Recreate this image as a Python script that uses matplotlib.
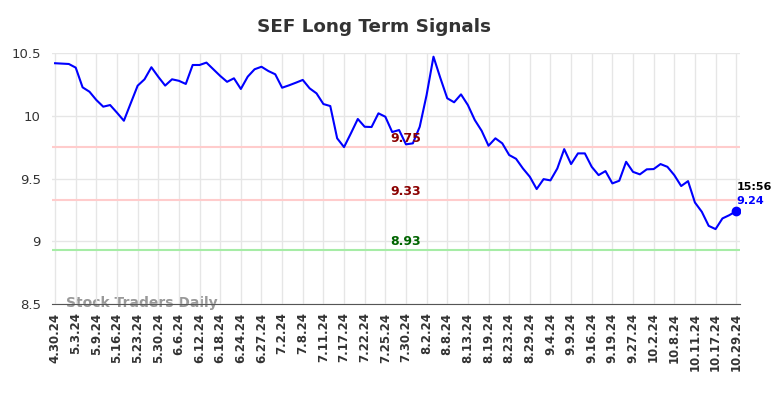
import matplotlib; matplotlib.use("Agg")
import matplotlib.pyplot as plt

# closing prices, one per session
prices = [
    10.418, 10.415, 10.412, 10.383, 10.226, 10.191, 10.125, 10.072, 10.085, 10.024,
    9.960, 10.100, 10.239, 10.290, 10.386, 10.310, 10.240, 10.290, 10.278, 10.253,
    10.404, 10.404, 10.423, 10.370, 10.317, 10.270, 10.298, 10.213, 10.311, 10.370,
    10.390, 10.356, 10.330, 10.223, 10.242, 10.263, 10.285, 10.218, 10.178, 10.093,
    10.077, 9.820, 9.750, 9.860, 9.974, 9.912, 9.910, 10.019, 9.992, 9.870,
    9.886, 9.772, 9.780, 9.912, 10.165, 10.470, 10.300, 10.139, 10.107, 10.170,
    10.085, 9.966, 9.880, 9.761, 9.820, 9.780, 9.687, 9.657, 9.580, 9.514,
    9.416, 9.495, 9.485, 9.580, 9.734, 9.615, 9.700, 9.700, 9.593, 9.527,
    9.559, 9.461, 9.482, 9.633, 9.553, 9.533, 9.573, 9.575, 9.615, 9.593,
    9.527, 9.440, 9.479, 9.309, 9.235, 9.123, 9.097, 9.182, 9.208, 9.240,
]
tick_labels = [
    "4.30.24", "5.3.24", "5.9.24", "5.16.24", "5.23.24", "5.30.24", "6.6.24",
    "6.12.24", "6.18.24", "6.24.24", "6.27.24", "7.2.24", "7.8.24", "7.11.24",
    "7.17.24", "7.22.24", "7.25.24", "7.30.24", "8.2.24", "8.8.24", "8.13.24",
    "8.19.24", "8.23.24", "8.29.24", "9.4.24", "9.9.24", "9.16.24", "9.19.24",
    "9.27.24", "10.2.24", "10.8.24", "10.11.24", "10.17.24", "10.29.24",
]
tick_step = 3
levels = [9.75, 9.33, 8.93]
level_line_colors = ["#ffcccc", "#ffcccc", "#a6eca6"]
level_text_colors = ["#8b0000", "#8b0000", "#006400"]
last_time = "15:56"

fig = plt.figure(figsize=(7.84, 3.98), dpi=100)
ax = fig.add_axes([0.0663, 0.236, 0.878, 0.631])

x = list(range(len(prices)))
ax.plot(x, prices, color="#0000ff", lw=1.5, zorder=3)
ax.plot(x[-1], prices[-1], "o", color="#0000ff", ms=6, zorder=4)

for lv, lc, tc in zip(levels, level_line_colors, level_text_colors):
    ax.axhline(lv, color=lc, lw=1.5, zorder=2)
    ax.text(51, lv + 0.015, f"{lv:.2f}", color=tc, fontsize=9, fontweight="bold",
            ha="center", va="bottom", zorder=5)

ax.text(x[-1], prices[-1] + 0.15, last_time, color="black", fontsize=8,
        fontweight="bold", ha="left", va="bottom")
ax.text(x[-1], prices[-1] + 0.04, f"{prices[-1]:.2f}", color="#0000ff", fontsize=8,
        fontweight="bold", ha="left", va="bottom")

ax.text(1.6, 8.51, "Stock Traders Daily", color="#999999", fontsize=10,
        fontweight="bold", ha="left", va="center", zorder=1)

ax.set_xlim(-0.45, 99.6)
ax.set_ylim(8.5, 10.5)
ax.set_yticks([8.5, 9, 9.5, 10, 10.5])
ax.set_yticklabels(["8.5", "9", "9.5", "10", "10.5"])
ax.set_xticks(x[::tick_step])
ax.set_xticklabels(tick_labels, rotation=90, fontweight="bold", fontsize=8.5)
ax.tick_params(axis="both", length=0, colors="#333333", labelsize=9.5)
ax.tick_params(axis="x", pad=6, labelsize=8.5)
ax.tick_params(axis="y", pad=8)
ax.grid(color="#e6e6e6", lw=1)
for s in ["top", "right", "left"]:
    ax.spines[s].set_visible(False)
ax.spines["bottom"].set_color("#555555")

fig.suptitle("SEF Long Term Signals", x=0.477, y=0.955, fontsize=13.2,
             fontweight="bold", color="#333333")

fig.savefig("out.png", dpi=100)
